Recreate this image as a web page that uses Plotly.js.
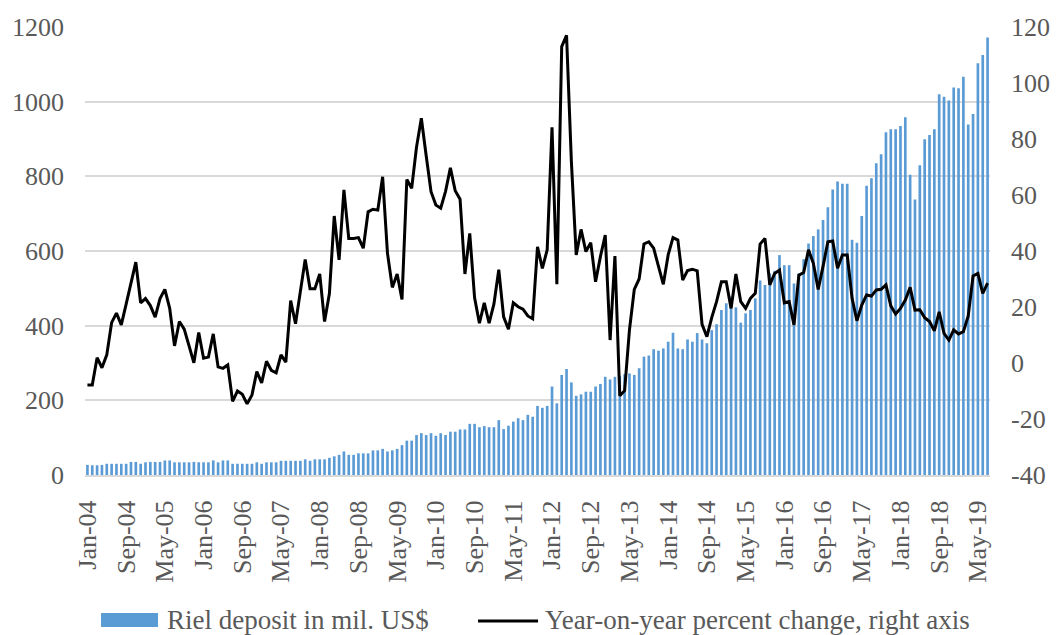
<!DOCTYPE html>
<html>
<head>
<meta charset="utf-8">
<script src="https://cdn.plot.ly/plotly-3.0.1.min.js"></script>
<style>
html, body { margin: 0; padding: 0; background: #ffffff; }
#chart { width: 1056px; height: 635px; }
</style>
</head>
<body>
<div id="chart"></div>
<script>
// Riel deposits in million US$, monthly, Jan-04 .. Jul-19
var rielDeposit = [
  27, 26, 26, 27, 30, 30, 30, 30, 30, 35, 35, 30,
  34, 35, 35, 35, 39, 39, 34, 34, 34, 34, 35, 34,
  34, 34, 39, 34, 39, 39, 30, 30, 30, 30, 30, 34,
  30, 34, 34, 34, 38, 38, 38, 38, 38, 42, 38, 42,
  42, 42, 46, 50, 54, 63, 54, 54, 58, 58, 58, 66,
  66, 70, 63, 66, 70, 80, 92, 92, 107, 112, 107, 112,
  105, 112, 107, 116, 116, 122, 122, 137, 137, 128, 131, 128,
  128, 147, 123, 132, 143, 152, 147, 161, 156, 185, 180, 185,
  237, 192, 268, 284, 248, 212, 216, 223, 223, 237, 244, 263,
  256, 263, 265, 270, 272, 268, 286, 317, 320, 337, 333, 339,
  357, 381, 339, 337, 363, 357, 380, 363, 353, 388, 404, 442,
  460, 478, 449, 408, 433, 442, 473, 521, 509, 540, 547, 589,
  562, 562, 513, 540, 578, 620, 640, 658, 683, 717, 765, 786,
  780, 780, 630, 622, 694, 775, 795, 835, 859, 918, 926, 926,
  935, 958, 804, 738, 830, 899, 911, 926, 1020, 1013, 1003, 1038,
  1036, 1067, 939, 967, 1103, 1125, 1172
];

// Year-on-year percent change (right axis)
var yoyChange = [
  -7.9, -7.9, 1.9, -1.7, 2.9, 14.4, 17.8, 13.6, 21, 28, 36, 21.5,
  23, 20.5, 16.4, 23, 26.3, 19.5, 6.1, 14.8, 12.1, 6.1, 0.1, 10.9,
  1.7, 2.1, 10.4, -1.4, -1.9, -0.7, -13.7, -10, -11.2, -14.6, -11.4, -3.1,
  -7.1, 0.6, -2.6, -3.5, 2.9, 0.3, 22.3, 14, 25.2, 37, 26.5, 26.5,
  31.8, 14.8, 24.8, 52.5, 36.8, 61.8, 44.5, 44.5, 44.8, 41, 54, 54.9,
  54.6, 66.5, 39.2, 27, 31.8, 22.7, 65.5, 62.4, 77.1, 87.4, 74, 61.2,
  56.4, 55.3, 61.3, 69.7, 61.5, 58.5, 31.8, 46.3, 23.3, 14.2, 21.5, 14.2,
  21.1, 33.3, 16.5, 12.1, 21.5, 20.1, 19.2, 16.8, 15.8, 41.5, 33.8, 40.4,
  84.2, 28.1, 113, 117, 71.9, 38.6, 47.7, 39.8, 43, 29, 38, 45.7,
  8.2, 38.2, -11.7, -9.9, 11.8, 26.3, 30, 42.5, 43.3, 41, 34.5, 28.1,
  38.6, 44.8, 43.9, 29.6, 33, 33.5, 32.9, 13.8, 9.4, 16.2, 21.9, 29,
  29, 19.5, 31.8, 21.9, 19.5, 23.1, 24.9, 42.5, 44.5, 27.9, 32, 33.2,
  21.5, 21.9, 13.6, 31.4, 32.3, 40.4, 35.6, 26.3, 34.5, 43.3, 43.6, 33.8,
  38.6, 38.6, 23.1, 15.1, 20.7, 24.3, 23.9, 26.1, 26.3, 27.9, 20.4, 17.5,
  19.5, 22.5, 27, 18.9, 19, 16.2, 14.8, 11.5, 18.3, 10.6, 8.2, 11.8,
  10.4, 11.2, 16.8, 31.1, 32, 24.9, 28.5
];

var xTickLabels = [
  "Jan-04", "Sep-04", "May-05", "Jan-06", "Sep-06", "May-07", "Jan-08", "Sep-08",
  "May-09", "Jan-10", "Sep-10", "May-11", "Jan-12", "Sep-12", "May-13", "Jan-14",
  "Sep-14", "May-15", "Jan-16", "Sep-16", "May-17", "Jan-18", "Sep-18", "May-19"
];

var leftTicks = [0, 200, 400, 600, 800, 1000, 1200];
var rightTicks = [-40, -20, 0, 20, 40, 60, 80, 100, 120];

var legendNames = ["Riel deposit in mil. US$", "Year-on-year percent change, right axis"];

// month category labels (Jan-04 ...)
var monthNames = ["Jan","Feb","Mar","Apr","May","Jun","Jul","Aug","Sep","Oct","Nov","Dec"];
var months = [];
for (var k = 0; k < rielDeposit.length; k++) {
  var yr = 4 + Math.floor(k / 12);
  months.push(monthNames[k % 12] + "-" + (yr < 10 ? "0" + yr : "" + yr));
}

var FONT = "'Liberation Serif', 'Times New Roman', serif";
var GREY = "#595959";

var traces = [
  {
    type: "bar",
    x: months,
    y: rielDeposit,
    name: legendNames[0],
    marker: { color: "#5B9BD5" },
    yaxis: "y",
    showlegend: false,
    hoverinfo: "x+y"
  },
  {
    type: "scatter",
    mode: "lines",
    x: months,
    y: yoyChange,
    name: legendNames[1],
    line: { color: "#000000", width: 3 },
    yaxis: "y2",
    showlegend: false,
    hoverinfo: "x+y"
  }
];

var layout = {
  width: 1056,
  height: 635,
  margin: { l: 85, r: 66, t: 27, b: 160 },
  paper_bgcolor: "#ffffff",
  plot_bgcolor: "#ffffff",
  bargap: 0.45,
  showlegend: false,
  font: { family: FONT, color: GREY, size: 26 },
  xaxis: {
    type: "category",
    categoryorder: "array",
    categoryarray: months,
    range: [-0.5, months.length - 0.5],
    tickmode: "array",
    tickvals: xTickLabels,
    ticktext: xTickLabels,
    tickangle: -90,
    tickfont: { family: FONT, color: GREY, size: 26 },
    ticks: "",
    ticklabelstandoff: 13,
    showgrid: false,
    showline: true,
    linecolor: "#D9D9D9",
    linewidth: 2,
    zeroline: false,
    fixedrange: true
  },
  yaxis: {
    range: [0, 1200],
    tickmode: "array",
    tickvals: leftTicks,
    ticktext: leftTicks.map(String),
    tickfont: { family: FONT, color: GREY, size: 26 },
    ticks: "",
    ticklabelstandoff: 20,
    showgrid: true,
    gridcolor: "#D9D9D9",
    gridwidth: 2,
    zeroline: false,
    showline: false,
    fixedrange: true
  },
  yaxis2: {
    overlaying: "y",
    side: "right",
    range: [-40, 120],
    tickmode: "array",
    tickvals: rightTicks,
    ticktext: rightTicks.map(String),
    tickfont: { family: FONT, color: GREY, size: 26 },
    ticks: "",
    ticklabelstandoff: 20,
    showgrid: false,
    zeroline: false,
    showline: false,
    fixedrange: true
  },
  shapes: [
    {
      type: "rect", xref: "paper", yref: "paper",
      x0: 0.0177, x1: 0.0807, y0: -0.308, y1: -0.3393,
      fillcolor: "#5B9BD5", line: { width: 0 }
    },
    {
      type: "line", xref: "paper", yref: "paper",
      x0: 0.4343, x1: 0.5006, y0: -0.3260, y1: -0.3260,
      line: { color: "#000000", width: 3 }
    }
  ],
  annotations: [
    {
      xref: "paper", yref: "paper", x: 0.0884, y: -0.3237,
      xanchor: "left", yanchor: "middle", showarrow: false,
      text: legendNames[0], font: { family: FONT, color: GREY, size: 27 }
    },
    {
      xref: "paper", yref: "paper", x: 0.5061, y: -0.3237,
      xanchor: "left", yanchor: "middle", showarrow: false,
      text: legendNames[1], font: { family: FONT, color: GREY, size: 27 }
    }
  ]
};

Plotly.newPlot("chart", traces, layout, { displayModeBar: false, staticPlot: true });
</script>
</body>
</html>
